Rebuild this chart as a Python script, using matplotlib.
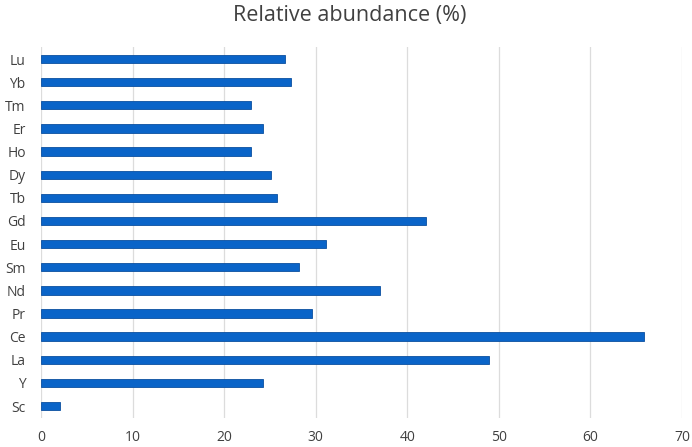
import matplotlib
matplotlib.use("Agg")
import matplotlib.pyplot as plt

elements = ["Sc", "Y", "La", "Ce", "Pr", "Nd", "Sm", "Eu",
            "Gd", "Tb", "Dy", "Ho", "Er", "Tm", "Yb", "Lu"]
abundance = [2.1, 24.3, 48.9, 65.9, 29.6, 37.0, 28.2, 31.1,
             42.1, 25.8, 25.1, 22.9, 24.3, 22.9, 27.3, 26.6]

plt.rcParams["font.family"] = ["Open Sans", "DejaVu Sans"]

fig = plt.figure(figsize=(6.92, 4.47), dpi=100)
ax = fig.add_axes([0.0592, 0.0658, 0.9263, 0.828])

ax.barh(range(len(elements)), abundance, height=0.36,
        color="#0a64c8", edgecolor="#0b4fa0", linewidth=0.6, zorder=3)

ax.set_xlim(0, 70)
ax.set_ylim(-0.5, len(elements) - 0.5)
ax.set_xticks(range(0, 71, 10))
ax.set_yticks(range(len(elements)))
ax.set_yticklabels(elements)
ax.tick_params(axis="both", length=0, labelsize=10, colors="#404040")
ax.tick_params(axis="x", pad=9)
ax.tick_params(axis="y", pad=11)
ax.grid(axis="x", color="#dcdcdc", linewidth=0.9, zorder=0)
for s in ax.spines.values():
    s.set_visible(False)

fig.text(0.506, 0.965, "Relative abundance (%)", ha="center", va="center",
         fontsize=15.5, color="#404040")

fig.savefig("out.png", dpi=100)
